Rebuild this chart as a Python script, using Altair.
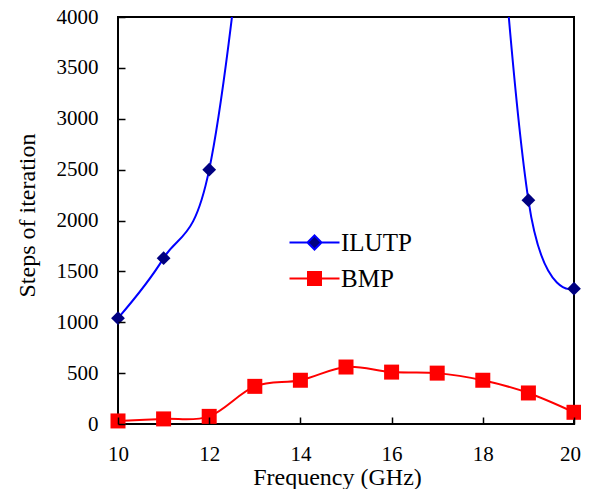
import altair as alt
import pandas as pd

# ---- data ----
freq = [10, 11, 12, 13, 14, 15, 16, 17, 18, 19, 20]
# ILUTP points 13..18 are far above the 4000 axis limit (off-chart, estimated)
ilutp = [1040, 1630, 2500, 5940, 10300, 15000, 16000, 14420, 7320, 2200, 1330]
bmp = [30, 50, 75, 370, 430, 560, 510, 500, 430, 305, 115]

series_names = ["ILUTP", "BMP"]
line_colors = ["#0000FF", "#FF0000"]
marker_colors = ["#000080", "#FF0000"]
marker_shapes = ["diamond", "square"]
marker_sizes = [190, 225]
legend_shapes = [
    "M-2.5,0L-0.7,0M0.7,0L2.5,0M-0.7,0L0,-0.7L0.7,0L0,0.7Z",
    "M-2.5,0L-0.65,0M0.65,0L2.5,0M-0.65,-0.65L0.65,-0.65L0.65,0.65L-0.65,0.65Z",
]
x_ticks = [10, 12, 14, 16, 18, 20]
y_ticks = [0, 500, 1000, 1500, 2000, 2500, 3000, 3500, 4000]

df = pd.DataFrame({
    "freq": freq + freq,
    "steps": ilutp + bmp,
    "series": ["ILUTP"] * len(freq) + ["BMP"] * len(freq),
})

FONT = "Liberation Serif"

x_enc = alt.X(
    "freq:Q",
    scale=alt.Scale(domain=[10, 20], nice=False, zero=False),
    axis=alt.Axis(
        values=x_ticks, title="Frequency (GHz)", grid=False, format="d",
        domain=False, offset=-7, ticks=True, tickSize=7, tickColor="black", tickWidth=1.5,
        labelPadding=19, labelFlush=False, zindex=2,
        labelOffset={"condition": {"test": "datum.value === 20", "value": -4}, "value": 0},
        titleX=219, titleY=67, titleBaseline="alphabetic",
    ),
)
y_enc = alt.Y(
    "steps:Q",
    scale=alt.Scale(domain=[0, 4000], nice=False),
    axis=alt.Axis(
        values=y_ticks, title="Steps of iteration", grid=False, format="d",
        domain=False, offset=-7, ticks=True, tickSize=7, tickColor="black", tickWidth=1.5,
        labelPadding=20, labelFlush=False, zindex=2,
        titleX=-98, titleY=198, titleBaseline="middle", titleAngle=-90,
    ),
)

stroke_scale = alt.Scale(domain=series_names, range=line_colors)
fill_scale = alt.Scale(domain=series_names, range=marker_colors)
shape_scale = alt.Scale(domain=series_names, range=legend_shapes)
LEG = alt.Legend(title=None)

legend_layer = alt.Chart(df).transform_filter("false").mark_point(opacity=1).encode(
    x=x_enc, y=y_enc,
    fill=alt.Fill("series:N", scale=fill_scale, legend=LEG),
    stroke=alt.Stroke("series:N", scale=stroke_scale, legend=LEG),
    shape=alt.Shape("series:N", scale=shape_scale, legend=LEG),
)

lines = alt.Chart(df).mark_line(interpolate="cardinal", strokeWidth=2, clip=True).encode(
    x=x_enc, y=y_enc,
    stroke=alt.Stroke("series:N", scale=stroke_scale, legend=LEG),
    detail="series:N",
)

point_layers = []
for name, shp, sz in zip(series_names, marker_shapes, marker_sizes):
    point_layers.append(
        alt.Chart(df)
        .transform_filter(f"datum.series === '{name}' && datum.steps <= 4000")
        .mark_point(filled=True, opacity=1, strokeWidth=0, shape=shp, size=sz)
        .encode(
            x=x_enc, y=y_enc,
            fill=alt.Fill("series:N", scale=fill_scale, legend=LEG),
        )
    )

chart = alt.layer(legend_layer, lines, *point_layers).properties(
    width=456, height=407,
    autosize="none",
    padding={"left": 110, "top": 9, "right": 7, "bottom": 65},
).configure_view(
    stroke="black", strokeWidth=2
).configure_axis(
    labelFont=FONT, labelFontSize=21, labelColor="black",
    titleFont=FONT, titleFontSize=24, titleColor="black", titleFontWeight="normal",
).configure_legend(
    orient="none", legendX=184, legendY=213, padding=0,
    symbolSize=400, symbolStrokeWidth=2, symbolOpacity=1,
    labelFont=FONT, labelFontSize=25, labelColor="black", labelOffset=14,
    rowPadding=10,
)

chart.save("out.html", embed_options={"renderer": "svg", "actions": False})
